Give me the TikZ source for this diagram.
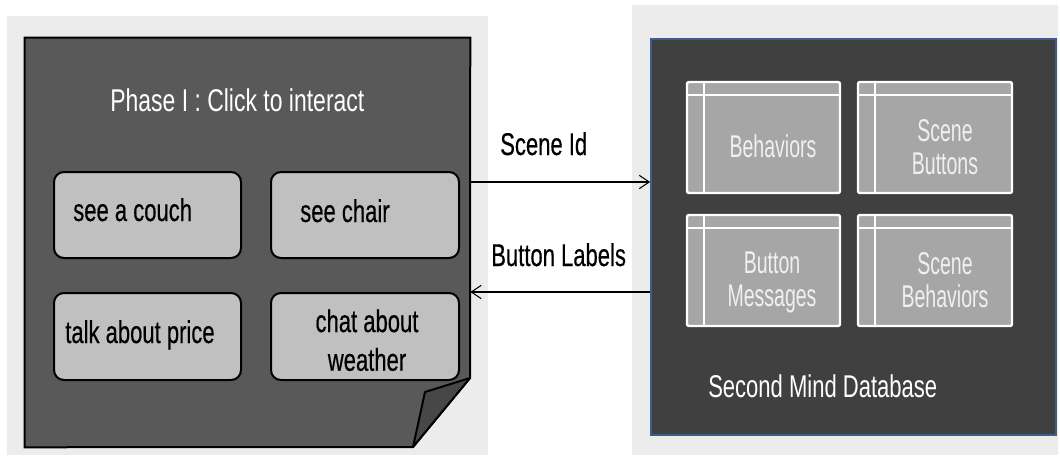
\documentclass[tikz,border=0pt]{standalone}
\usepackage{fontspec}
\setmainfont{Liberation Sans}
\newfontfamily\titlefont[FakeStretch=0.73]{Liberation Sans}
\newfontfamily\narrowfont[FakeStretch=0.70]{Liberation Sans}
\newfontfamily\darkfont[FakeStretch=0.70,FakeBold=0.4]{Liberation Sans}
\newfontfamily\tablefont[FakeStretch=0.62]{Liberation Sans}
\usetikzlibrary{fit,calc,arrows.meta}
\definecolor{panelbg}{HTML}{ECECEC}
\definecolor{notefill}{HTML}{595959}
\definecolor{flapfill}{HTML}{474747}
\definecolor{btnfill}{HTML}{C0C0C0}
\definecolor{dbfill}{HTML}{404040}
\definecolor{dbedge}{HTML}{3B5E8C}
\definecolor{tblfill}{HTML}{A6A6A6}
\definecolor{tbltext}{HTML}{F0F0F0}
\begin{document}
\begin{tikzpicture}[x=0.75pt,y=-0.75pt,
  panel/.style={fill=panelbg, draw=none, inner sep=0},
  btn/.style={fill=btnfill, draw=black, line width=1.5pt, rounded corners=7.5pt, inner sep=0},
  btntext/.style={font=\darkfont\fontsize{23.6}{29}\selectfont, text=black, inner sep=0},
  tbl/.style={fill=tblfill, draw=white, line width=1.8pt, rounded corners=1.5pt, inner sep=0},
  tblline/.style={draw=white, line width=1.8pt},
  tbltxt/.style={font=\tablefont\fontsize{23.6}{24.75}\selectfont, text=tbltext, align=center, inner sep=0},
  whitetxt/.style={font=\narrowfont\fontsize{23.6}{27}\selectfont, text=white, inner sep=0, anchor=base west},
  linklabel/.style={font=\darkfont\fontsize{23.6}{27}\selectfont, text=black, inner sep=0, anchor=base west},
  link/.style={draw=black, line width=0.8pt, -{Straight Barb[length=7.5pt,width=10pt]}},
]
\useasboundingbox (0,0) rectangle (1060,455);

% grey backing panels
\node[panel, fit={(7,16) (488,455)}] (leftpanel) {};
\node[panel, fit={(632,5) (1058,455)}] (rightpanel) {};

% sticky note with a folded corner
\node[inner sep=0, fit={(25,38) (470,447)}] (note) {};
\coordinate (foldtop) at (470,378);
\coordinate (foldin) at (425,392);
\coordinate (foldbot) at (413,447);
\draw[fill=notefill, line width=1.5pt]
  (note.north west) -- (note.north east) -- (foldtop) -- (foldbot) -- (note.south west) -- cycle;
\draw[fill=flapfill, line width=1.5pt, line join=round]
  (foldtop) -- (foldin) -- (foldbot) -- cycle;

\node[whitetxt, font=\titlefont\fontsize{23.6}{27}\selectfont] (phase) at (110,111) {Phase I : Click to interact};

% interaction buttons
\node[btn, fit={(54,172) (241,258)}] (couch) {};
\node[btn, fit={(271,172) (459,258)}] (chair) {};
\node[btn, fit={(54,293) (241,380)}] (price) {};
\node[btn, fit={(271,293) (459,380)}] (weather) {};

\node[btntext, anchor=base west] (couchtxt) at (73,221) {see a couch};
\node[btntext, anchor=base west] (chairtxt) at (300,222) {see chair};
\node[btntext, anchor=base west] (pricetxt) at (65,343) {talk about price};
\node[btntext, anchor=north, align=center] (weathertxt) at (367,309) {chat about\\weather};

% database
\node[fill=dbfill, draw=dbedge, line width=1.2pt, inner sep=0, fit={(651,39) (1056,435)}] (db) {};

\node[tbl, fit={(687,82) (840,193)}] (tbehav) {};
\node[tbl, fit={(858,82) (1012,193)}] (tbuttons) {};
\node[tbl, fit={(687,215) (840,326)}] (tmsg) {};
\node[tbl, fit={(858,215) (1012,326)}] (tscene) {};

\foreach \t in {tbehav,tbuttons,tmsg,tscene}{
  \draw[tblline] ($(\t.north west)+(0,14)$) -- ($(\t.north east)+(0,14)$);
  \draw[tblline] ($(\t.north west)+(18,0)$) -- ($(\t.south west)+(18,0)$);
}

\node[tbltxt] (behavtxt) at (773,146) {Behaviors};
\node[tbltxt] (buttonstxt) at (945,147) {Scene\\Buttons};
\node[tbltxt] (msgtxt) at (772,282) {Button\\Messages};
\node[tbltxt] (scenetxt) at (945,280) {Scene\\Behaviors};

\node[whitetxt] (dbname) at (708,397) {Second Mind Database};

% message flow between the note and the database
\coordinate (idrow) at (560,182);
\coordinate (labelrow) at (560,292);
\draw[link] (note.east |- idrow) -- (db.west |- idrow);
\draw[link] (db.west |- labelrow) -- (note.east |- labelrow);
\node[linklabel] (sceneid) at (500,155) {Scene Id};
\node[linklabel] (btnlabels) at (491,266) {Button Labels};
\end{tikzpicture}
\end{document}
